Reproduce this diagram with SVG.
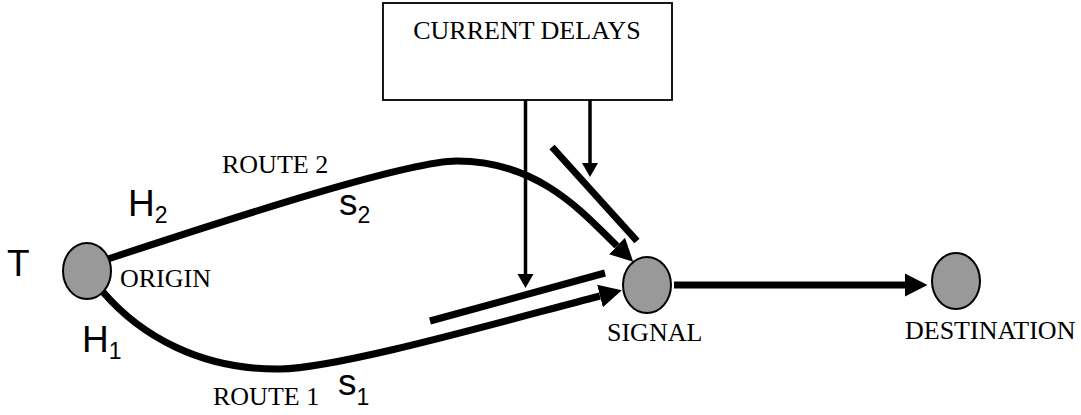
<svg xmlns="http://www.w3.org/2000/svg" width="1081" height="415" viewBox="0 0 1081 415">
<style>
.node{fill:#999999;stroke:#000;stroke-width:2}
.box{fill:#fff;stroke:#000;stroke-width:1.8}
.serif{font-family:"Liberation Serif","Times New Roman",serif;font-size:26px;fill:#000}
.sans{font-family:"Liberation Sans",Arial,sans-serif;font-size:37px;fill:#000}
.sub{font-size:23px}
.route{fill:none;stroke:#000;stroke-width:7}
.bar{stroke:#000;stroke-width:7;stroke-linecap:butt}
.thin{stroke:#000;stroke-width:3.5;fill:none}
</style>
<defs>
<marker id="big" markerUnits="userSpaceOnUse" markerWidth="24" markerHeight="26" refX="0" refY="12" orient="auto" viewBox="0 0 24 24">
<path d="M0,0.5 L22.5,12 L0,23.5 z" fill="#000"/>
</marker>
<marker id="small" markerUnits="userSpaceOnUse" markerWidth="15" markerHeight="17" refX="0" refY="8" orient="auto" viewBox="0 0 15 16">
<path d="M0,0 L14,8 L0,16 z" fill="#000"/>
</marker>
</defs>
<rect width="1081" height="415" fill="#fff"/>
<g id="node-current-delays">
<rect class="box" x="383" y="3" width="289" height="97"/>
<text class="serif" x="527" y="39" text-anchor="middle">CURRENT DELAYS</text>
</g>
<g id="connectors">
<path class="route" d="M103,292 C140,335 200,370 280,369 C340,368 500,322 600,296" marker-end="url(#big)"/>
<path class="route" d="M108,259 C250,212 410,161 457,161 C540,161 585,215 617,246" marker-end="url(#big)"/>
<line class="route" x1="674" y1="285" x2="905" y2="285" marker-end="url(#big)"/>
<line class="bar" x1="552" y1="147" x2="637" y2="241"/>
<line class="bar" x1="430" y1="321" x2="605" y2="273"/>
<line class="thin" x1="525.5" y1="100" x2="525.5" y2="274" marker-end="url(#small)"/>
<line class="thin" x1="590" y1="100" x2="590" y2="163" marker-end="url(#small)"/>
</g>
<g id="node-origin">
<ellipse class="node" cx="87" cy="271" rx="24" ry="28"/>
<text class="serif" x="120" y="287">ORIGIN</text>
</g>
<g id="node-signal">
<ellipse class="node" cx="647" cy="285" rx="24" ry="28"/>
<text class="serif" x="607" y="341">SIGNAL</text>
</g>
<g id="node-destination">
<ellipse class="node" cx="956" cy="281" rx="24" ry="28"/>
<text class="serif" x="905" y="339">DESTINATION</text>
</g>
<g id="labels">
<text class="serif" x="222" y="173">ROUTE 2</text>
<text class="serif" x="213" y="405">ROUTE 1</text>
<text class="sans" x="7" y="276">T</text>
<text class="sans" x="128" y="216">H<tspan class="sub" dy="7">2</tspan></text>
<text class="sans" x="82" y="352">H<tspan class="sub" dy="7">1</tspan></text>
<text class="sans" x="339" y="215">s<tspan class="sub" dy="8">2</tspan></text>
<text class="sans" x="338" y="395">s<tspan class="sub" dy="10">1</tspan></text>
</g>
</svg>
